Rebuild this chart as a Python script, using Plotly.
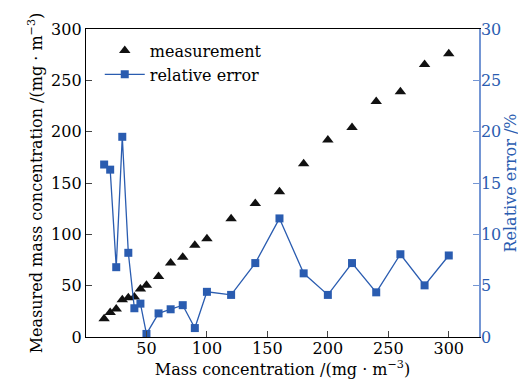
import plotly.graph_objects as go

conc = [15, 20, 25, 30, 35, 40, 45, 50, 60, 70, 80, 90, 100, 120, 140, 160,
        180, 200, 220, 240, 260, 280, 300]
measured = [17.8, 23.8, 27.3, 36.3, 38.2, 39.0, 46.7, 50.3, 59.0, 72.0, 77.8,
            89.3, 95.8, 115.2, 130.0, 141.4, 168.8, 192.0, 204.0, 229.5, 238.8,
            265.5, 276.0]
rel_error = [16.8, 16.3, 6.8, 19.5, 8.2, 2.8, 3.25, 0.3, 2.3, 2.7, 3.1, 0.87,
             4.4, 4.1, 7.2, 11.55, 6.2, 4.1, 7.2, 4.35, 8.06, 5.03, 7.94]

x_ticks = [50, 100, 150, 200, 250, 300]
y_ticks = [0, 50, 100, 150, 200, 250, 300]
y2_ticks = [0, 5, 10, 15, 20, 25, 30]

FONT = "DejaVu Serif"
BLUE = "#2a5cb0"
AXBLUE = "#7496d4"

fig = go.Figure()
fig.add_trace(go.Scatter(
    x=conc, y=measured, mode="markers", name="measurement",
    marker=dict(symbol="triangle-up", size=10, color="#111111"),
))
fig.add_trace(go.Scatter(
    x=conc, y=rel_error, mode="lines+markers", name="relative error",
    yaxis="y2",
    line=dict(color=BLUE, width=1.3),
    marker=dict(symbol="square", size=8, color=BLUE),
))

fig.update_layout(
    width=526, height=380,
    margin=dict(l=78, r=55, t=19, b=51),
    paper_bgcolor="white", plot_bgcolor="white",
    font=dict(family=FONT, size=16, color="black"),
    showlegend=True,
    legend=dict(x=0.035, y=0.985, xanchor="left", yanchor="top",
                bgcolor="rgba(0,0,0,0)", font=dict(size=16),
                itemwidth=40, tracegroupgap=0),
    xaxis=dict(
        range=[0, 325], tickvals=x_ticks, ticks="inside", ticklen=6,
        ticklabelstandoff=-3,
        showline=True, linecolor="black", linewidth=1.3, mirror=True,
        showgrid=False, zeroline=False,
        title=dict(text="Mass concentration /(mg · m<sup>−3</sup>)", standoff=0,
                   font=dict(size=16)),
        tickfont=dict(size=16),
    ),
    yaxis=dict(
        range=[0, 300], tickvals=y_ticks, ticks="inside", ticklen=6,
        showline=True, linecolor="black", linewidth=1.3,
        showgrid=False, zeroline=False,
        title=dict(text="Measured mass concentration /(mg · m<sup>−3</sup>)",
                   standoff=4, font=dict(size=16)),
        tickfont=dict(size=16),
    ),
    yaxis2=dict(
        range=[0, 30], tickvals=y2_ticks, ticks="inside", ticklen=6,
        ticklabelstandoff=-3,
        overlaying="y", side="right",
        showline=True, linecolor=AXBLUE, linewidth=1.5, tickcolor=AXBLUE,
        showgrid=False, zeroline=False,
        title=dict(text="Relative error /%", standoff=2,
                   font=dict(size=16, color=BLUE)),
        tickfont=dict(size=16, color=BLUE),
    ),
)

fig.write_html("out.html")
